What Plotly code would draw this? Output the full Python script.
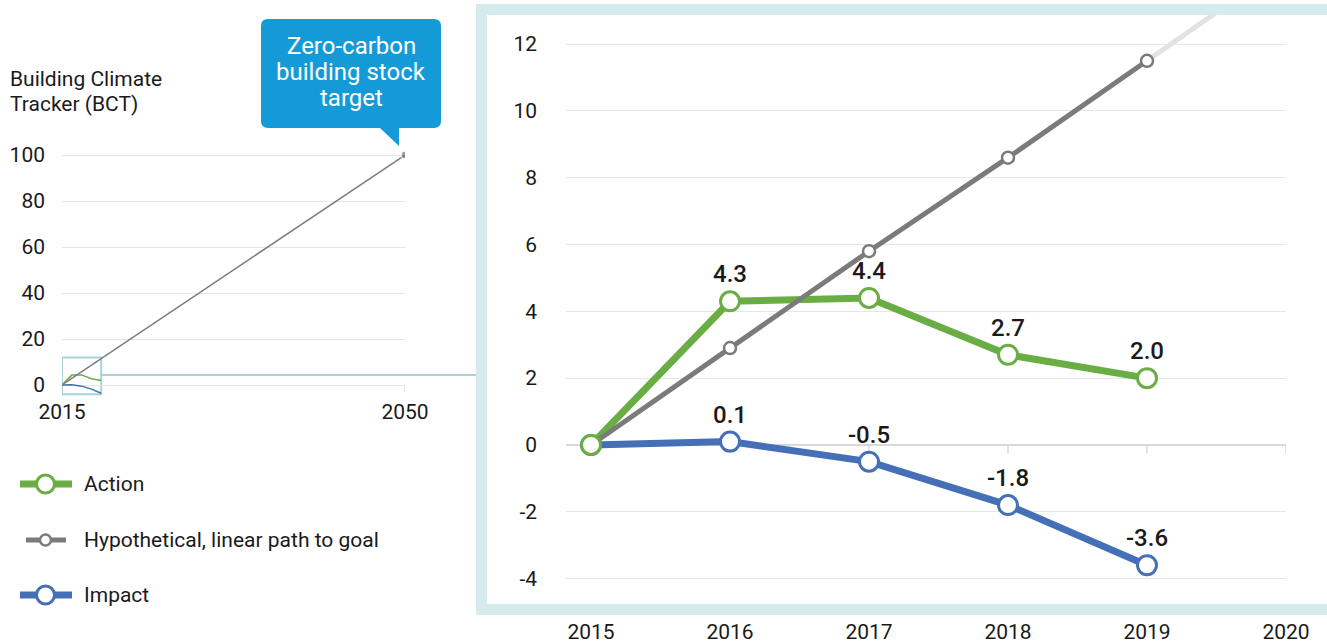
import plotly.graph_objects as go

W, H = 1327, 644

# ---------------- data ----------------
years = [2015, 2016, 2017, 2018, 2019]
action = [0, 4.3, 4.4, 2.7, 2.0]
impact = [0, 0.1, -0.5, -1.8, -3.6]
hypothetical = [0, 2.9, 5.8, 8.6, 11.5]
action_labels = ["", "4.3", "4.4", "2.7", "2.0"]
impact_labels = ["", "0.1", "-0.5", "-1.8", "-3.6"]
hyp_ext_years = [2019, 2020]
hyp_ext_values = [11.5, 14.4]
goal_years = [2015, 2050]
goal_values = [0, 100]
right_xticks = [2015, 2016, 2017, 2018, 2019, 2020]
right_yticks = [-4, -2, 0, 2, 4, 6, 8, 10, 12]
right_yticktext = ["-4", "-2", "0", "2", "4", "6", "8", "10", "12"]
left_xticks = [2015, 2050]
left_yticks = [0, 20, 40, 60, 80, 100]
zoom_box_x = [2015, 2019]
zoom_box_y = [-4, 12]
legend_names = ["Action", "Hypothetical, linear path to goal", "Impact"]
callout_lines = ["Zero-carbon", "building stock", "target"]
title_lines = ["Building Climate", "Tracker (BCT)"]

GREEN = "#6aad45"
BLUE = "#4570b7"
GRAY = "#7b7b7b"
LIGHTGRAY = "#e2e2e2"
TEAL_BORDER = "#d5ebee"
TEAL_LINE = "#a9d3d6"
CALLOUT = "#149bd7"
TXT = "#1a1a1a"
FONT = "Roboto"


def px(x):
    return x / W


def py(y):
    return 1 - y / H


fig = go.Figure()

# ---------------- left overview panel ----------------
fig.add_trace(go.Scatter(x=years, y=impact, mode="lines", line=dict(color=BLUE, width=1.5),
                         xaxis="x", yaxis="y", showlegend=False, hoverinfo="skip"))
fig.add_trace(go.Scatter(x=years, y=action, mode="lines", line=dict(color=GREEN, width=1.5),
                         xaxis="x", yaxis="y", showlegend=False, hoverinfo="skip"))
fig.add_trace(go.Scatter(x=goal_years, y=goal_values, mode="lines+markers",
                         line=dict(color=GRAY, width=1.5),
                         marker=dict(size=[0, 8], color=GRAY),
                         xaxis="x", yaxis="y", showlegend=False, hoverinfo="skip"))

# ---------------- right detail panel ----------------
label_font = dict(size=24, color=TXT, family=FONT, weight=500)
fig.add_trace(go.Scatter(x=years, y=impact, mode="lines+markers+text",
                         line=dict(color=BLUE, width=7),
                         marker=dict(size=19, color="white", line=dict(color=BLUE, width=3)),
                         text=impact_labels, textposition="top center", textfont=label_font,
                         xaxis="x2", yaxis="y2", name="Impact", showlegend=False))
fig.add_trace(go.Scatter(x=years, y=action, mode="lines",
                         line=dict(color=GREEN, width=7),
                         xaxis="x2", yaxis="y2", showlegend=False, hoverinfo="skip"))
fig.add_trace(go.Scatter(x=hyp_ext_years, y=hyp_ext_values, mode="lines",
                         line=dict(color=LIGHTGRAY, width=5),
                         xaxis="x2", yaxis="y2", showlegend=False, hoverinfo="skip"))
fig.add_trace(go.Scatter(x=years, y=hypothetical, mode="lines+markers",
                         line=dict(color=GRAY, width=5),
                         marker=dict(size=12, color="white", line=dict(color=GRAY, width=2.5)),
                         xaxis="x2", yaxis="y2", name="Hypothetical", showlegend=False))
fig.add_trace(go.Scatter(x=years, y=action, mode="markers+text",
                         marker=dict(size=19, color="white", line=dict(color=GREEN, width=3)),
                         text=action_labels, textposition="top center", textfont=label_font,
                         xaxis="x2", yaxis="y2", name="Action", showlegend=False))

# ---------------- custom legend (pixel overlay axis) ----------------
leg_y = [484, 540, 595]
leg_colors = [GREEN, GRAY, BLUE]
leg_lw = [7, 5, 7]
leg_x = [(20, 72), (26, 66), (20, 72)]
leg_ms = [18, 11, 18]
leg_mlw = [3, 2.5, 3]
for name, yy, c, lw, (xa, xb), ms, mlw in zip(legend_names, leg_y, leg_colors, leg_lw, leg_x, leg_ms, leg_mlw):
    fig.add_trace(go.Scatter(x=[xa, xb], y=[yy, yy], mode="lines", line=dict(color=c, width=lw),
                             xaxis="x3", yaxis="y3", showlegend=False, hoverinfo="skip"))
    fig.add_trace(go.Scatter(x=[45.5], y=[yy], mode="markers",
                             marker=dict(size=ms, color="white", line=dict(color=c, width=mlw)),
                             xaxis="x3", yaxis="y3", showlegend=False, hoverinfo="skip"))
    fig.add_annotation(x=px(82), y=py(yy), xref="paper", yref="paper", text=name,
                       showarrow=False, xanchor="left", yanchor="middle",
                       font=dict(size=21, color=TXT, family=FONT))

shapes = []
# zoom box in overview
shapes.append(dict(type="rect", xref="x", yref="y", x0=zoom_box_x[0], x1=zoom_box_x[1],
                   y0=zoom_box_y[0], y1=zoom_box_y[1], line=dict(color=TEAL_LINE, width=2),
                   layer="below"))
# connector
shapes.append(dict(type="line", xref="paper", yref="paper", x0=px(100), x1=px(478),
                   y0=py(375), y1=py(375), line=dict(color=TEAL_LINE, width=2), layer="below"))
# tick at 2050 on overview
shapes.append(dict(type="line", xref="x", yref="y", x0=left_xticks[1], x1=left_xticks[1],
                   y0=0, y1=-3, line=dict(color="#d9d9d9", width=1.5)))
# ticks on zero line of detail panel
for yr in right_xticks:
    shapes.append(dict(type="line", xref="x2", yref="y2", x0=yr, x1=yr, y0=0, y1=-0.25,
                       line=dict(color="#d9d9d9", width=1.5), layer="below"))
# detail panel frame
shapes.append(dict(type="rect", xref="paper", yref="paper", x0=px(481.5), x1=px(1345),
                   y0=py(609.5), y1=py(9.5), line=dict(color=TEAL_BORDER, width=11),
                   fillcolor="rgba(0,0,0,0)", layer="above"))

# callout box with pointer
L, R, T, B, r = 261, 441, 19, 128, 7
pts = [
    f"M {px(L + r)},{py(T)}",
    f"L {px(R - r)},{py(T)}",
    f"Q {px(R)},{py(T)} {px(R)},{py(T + r)}",
    f"L {px(R)},{py(B - r)}",
    f"Q {px(R)},{py(B)} {px(R - r)},{py(B)}",
    f"L {px(399)},{py(B)}",
    f"L {px(399)},{py(146)}",
    f"L {px(380)},{py(B)}",
    f"L {px(L + r)},{py(B)}",
    f"Q {px(L)},{py(B)} {px(L)},{py(B - r)}",
    f"L {px(L)},{py(T + r)}",
    f"Q {px(L)},{py(T)} {px(L + r)},{py(T)}",
    "Z",
]
shapes.append(dict(type="path", xref="paper", yref="paper", path=" ".join(pts),
                   fillcolor=CALLOUT, line=dict(width=0), layer="above"))

fig.update_layout(shapes=shapes)

for line_text, yy in zip(callout_lines, [46, 72, 98]):
    fig.add_annotation(x=px(351), y=py(yy), xref="paper", yref="paper",
                       text=line_text, showarrow=False,
                       xanchor="center", yanchor="middle",
                       font=dict(size=24, color="white", family=FONT))

for line_text, yy in zip(title_lines, [79, 104]):
    fig.add_annotation(x=px(8), y=py(yy), xref="paper", yref="paper",
                       text=line_text, showarrow=False,
                       xanchor="left", yanchor="middle",
                       font=dict(size=21, color=TXT, family=FONT))

axis_font = dict(size=21, color=TXT, family=FONT)

fig.update_layout(
    template="none",
    width=W, height=H,
    margin=dict(l=0, r=0, t=0, b=0, autoexpand=False),
    paper_bgcolor="white", plot_bgcolor="rgba(0,0,0,0)",
    font=dict(family=FONT, color=TXT),
    showlegend=False,
    xaxis=dict(domain=[px(62), px(405)], range=[2015, 2050], tickvals=left_xticks,
               showgrid=False, zeroline=False, showline=False, ticks="", automargin=False,
               tickfont=axis_font, ticklabelstandoff=0, fixedrange=True),
    yaxis=dict(domain=[py(396.5), py(150.4)], range=[-5, 102], tickvals=left_yticks,
               gridcolor="#e6e6e6", gridwidth=1, zeroline=False, showline=False, ticks="",
               automargin=False, tickfont=axis_font, ticklabelstandoff=16, fixedrange=True),
    xaxis2=dict(domain=[px(566), px(1286)], range=[2014.82, 2020], tickvals=right_xticks,
                showgrid=False, zeroline=False, showline=False, ticks="", automargin=False,
                tickfont=axis_font, ticklabelstandoff=-1, anchor="y2", fixedrange=True),
    yaxis2=dict(domain=[py(618), py(10)], range=[-5.18, 13.02], tickvals=right_yticks,
                ticktext=right_yticktext,
                gridcolor="#e6e6e6", gridwidth=1, zeroline=True, zerolinecolor="#d9d9d9",
                zerolinewidth=1.5, showline=False, ticks="", tickfont=axis_font,
                automargin=False, ticklabelstandoff=28, anchor="x2", fixedrange=True),
    xaxis3=dict(domain=[0, 1], range=[0, W], visible=False, anchor="y3", fixedrange=True),
    yaxis3=dict(domain=[0, 1], range=[H, 0], visible=False, anchor="x3", fixedrange=True),
)

fig.write_html("out.html", config={"displayModeBar": False},
               post_script="document.body.style.margin='0';document.body.style.overflow='hidden';")
